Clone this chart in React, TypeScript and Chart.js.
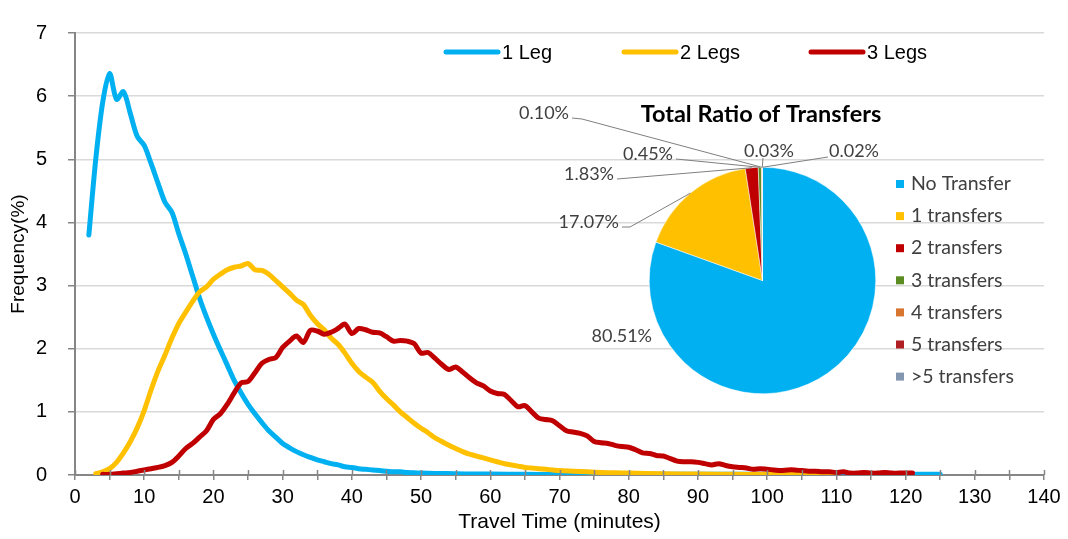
import { useEffect, useRef } from "react";
import { Chart, registerables } from "chart.js";

Chart.register(...registerables);

const FONT = "'Liberation Sans', Arial, sans-serif";
const PIE_FONT = "Lato, 'Noto Sans', sans-serif";

// ---------- line chart data ----------
const seriesNames = ["1 Leg", "2 Legs", "3 Legs"];
const seriesColors = ["#00B0F0", "#FFC000", "#C00000"];

const leg1Minutes = [
  2, 3, 4, 5, 6, 7, 8, 9, 10, 11, 12, 13, 14, 15, 16, 17, 18, 19, 20, 21, 22, 23, 24, 25, 26,
  27, 28, 29, 30, 31, 32, 33, 34, 35, 36, 37, 38, 39, 40, 41, 42, 43, 44, 45, 46, 47, 48, 49,
  50, 52, 55, 58, 60, 65, 70, 80, 90, 100, 110, 120, 125,
];
const leg1Freq = [
  3.8, 5.0, 5.9, 6.36, 5.95, 6.07, 5.72, 5.36, 5.22, 4.93, 4.62, 4.32, 4.16, 3.82, 3.5, 3.15,
  2.8, 2.5, 2.23, 1.98, 1.74, 1.5, 1.3, 1.12, 0.97, 0.83, 0.7, 0.6, 0.5, 0.43, 0.37, 0.32, 0.28,
  0.24, 0.21, 0.18, 0.16, 0.13, 0.12, 0.1, 0.09, 0.08, 0.07, 0.06, 0.05, 0.05, 0.04, 0.035,
  0.03, 0.025, 0.02, 0.015, 0.015, 0.01, 0.01, 0.01, 0.01, 0.01, 0.01, 0.01, 0.01,
];

const leg2Minutes = [
  3, 4, 5, 6, 7, 8, 9, 10, 11, 12, 13, 14, 15, 16, 17, 18, 19, 20, 21, 22, 23, 24, 25, 26, 27,
  28, 29, 30, 31, 32, 33, 34, 35, 36, 37, 38, 39, 40, 41, 42, 43, 44, 45, 46, 47, 48, 49, 50,
  51, 52, 53, 54, 55, 56, 57, 58, 59, 60, 61, 62, 63, 64, 65, 66, 67, 68, 69, 70, 72, 74, 76,
  78, 80, 85, 90, 95, 100, 105, 110,
];
const leg2Freq = [
  0.02, 0.05, 0.1, 0.2, 0.35, 0.53, 0.75, 1.02, 1.35, 1.65, 1.9, 2.17, 2.4, 2.58, 2.75, 2.9,
  2.98, 3.1, 3.18, 3.25, 3.29, 3.31, 3.35, 3.25, 3.24, 3.18, 3.08, 2.98, 2.88, 2.77, 2.7, 2.53,
  2.4, 2.3, 2.17, 2.07, 1.93, 1.77, 1.64, 1.55, 1.47, 1.33, 1.21, 1.11, 1.0, 0.91, 0.82, 0.74,
  0.67, 0.59, 0.53, 0.47, 0.42, 0.37, 0.33, 0.3, 0.27, 0.24, 0.21, 0.18, 0.16, 0.14, 0.12,
  0.11, 0.1, 0.09, 0.08, 0.07, 0.06, 0.05, 0.04, 0.035, 0.03, 0.02, 0.015, 0.01, 0.01, 0.01,
  0.01,
];

const leg3Minutes = [
  4, 5, 6, 7, 8, 9, 10, 11, 12, 13, 14, 15, 16, 17, 18, 19, 20, 21, 22, 23, 24, 25, 26, 27, 28,
  29, 30, 31, 32, 33, 34, 35, 36, 37, 38, 39, 40, 41, 42, 43, 44, 45, 46, 47, 48, 49, 50, 51,
  52, 53, 54, 55, 56, 57, 58, 59, 60, 61, 62, 63, 64, 65, 66, 67, 68, 69, 70, 71, 72, 73, 74,
  75, 76, 77, 78, 79, 80, 81, 82, 83, 84, 85, 86, 87, 88, 89, 90, 91, 92, 93, 94, 95, 96, 97,
  98, 99, 100, 101, 102, 103, 104, 105, 106, 107, 108, 109, 110, 111, 112, 113, 114, 115, 116,
  117, 118, 119, 120, 121,
];
const leg3Freq = [
  0.01, 0.01, 0.02, 0.03, 0.04, 0.06, 0.08, 0.1, 0.12, 0.15, 0.2, 0.3, 0.42, 0.5, 0.6, 0.7,
  0.88, 0.97, 1.12, 1.3, 1.46, 1.48, 1.62, 1.77, 1.83, 1.86, 2.02, 2.12, 2.2, 2.1, 2.29, 2.28,
  2.23, 2.26, 2.32, 2.39, 2.24, 2.32, 2.3, 2.26, 2.25, 2.19, 2.12, 2.13, 2.12, 2.08, 1.93, 1.94,
  1.85, 1.75, 1.67, 1.71, 1.63, 1.54, 1.46, 1.41, 1.33, 1.29, 1.28, 1.18, 1.08, 1.1, 1.0, 0.9,
  0.88, 0.86, 0.78, 0.7, 0.68, 0.66, 0.62, 0.53, 0.51, 0.5, 0.47, 0.45, 0.44, 0.4, 0.35, 0.34,
  0.31, 0.3, 0.26, 0.22, 0.21, 0.21, 0.2, 0.18, 0.16, 0.18, 0.15, 0.13, 0.12, 0.11, 0.09, 0.1,
  0.09, 0.08, 0.07, 0.08, 0.08, 0.07, 0.06, 0.06, 0.05, 0.05, 0.04, 0.05, 0.03, 0.03, 0.04,
  0.03, 0.03, 0.04, 0.03, 0.03, 0.03, 0.03,
];

const xAxisTitle = "Travel Time (minutes)";
const yAxisTitle = "Frequency(%)";

// ---------- pie chart data ----------
const pieTitle = "Total Ratio of Transfers";
const transferLabels = [
  "No Transfer",
  "1 transfers",
  "2 transfers",
  "3 transfers",
  "4 transfers",
  "5 transfers",
  ">5 transfers",
];
const transferShares = [80.51, 17.07, 1.83, 0.45, 0.1, 0.03, 0.02];
const transferColors = ["#00B0F0", "#FFC000", "#C00000", "#5B8C21", "#D8752F", "#B01F24", "#8497B0"];

// layout of pie data labels (text anchor + leader start points)
const pieLabelLayout: { tx: number; ty: number; align: CanvasTextAlign; lead: number[][] | null }[] = [
  { tx: 652, ty: 336, align: "right", lead: null },
  { tx: 619, ty: 222, align: "right", lead: [[622, 227], [630, 227]] },
  { tx: 614, ty: 174, align: "right", lead: [[617, 179]] },
  { tx: 673, ty: 154, align: "right", lead: [[676, 159]] },
  { tx: 569, ty: 113, align: "right", lead: [[572, 118], [582, 119]] },
  { tx: 769, ty: 151, align: "center", lead: [[763, 158]] },
  { tx: 829, ty: 151, align: "left", lead: [[828, 157]] },
];

function toPoints(xs: number[], ys: number[]) {
  return xs.map((x, i) => ({ x, y: ys[i] }));
}

export default function App() {
  const lineRef = useRef<HTMLCanvasElement>(null);
  const pieRef = useRef<HTMLCanvasElement>(null);

  useEffect(() => {
    const legendX = [446, 624, 811];
    const legendY = 52;
    const sampleLen = 52;

    const lineLegend = {
      id: "lineLegend",
      afterDraw(chart: any) {
        const ctx = chart.ctx as CanvasRenderingContext2D;
        ctx.save();
        chart.data.datasets.forEach((ds: any, i: number) => {
          ctx.strokeStyle = ds.borderColor;
          ctx.lineWidth = 5;
          ctx.lineCap = "round";
          ctx.beginPath();
          ctx.moveTo(legendX[i], legendY);
          ctx.lineTo(legendX[i] + sampleLen, legendY);
          ctx.stroke();
          ctx.fillStyle = "#000";
          ctx.font = `20px ${FONT}`;
          ctx.textBaseline = "middle";
          ctx.textAlign = "left";
          ctx.fillText(ds.label, legendX[i] + sampleLen + 4, legendY + 1);
        });
        ctx.restore();
      },
    };

    const crossTicks = {
      id: "crossTicks",
      afterDraw(chart: any) {
        const ctx = chart.ctx as CanvasRenderingContext2D;
        const xs = chart.scales.x;
        const y = chart.chartArea.bottom;
        ctx.save();
        ctx.strokeStyle = "#868686";
        ctx.lineWidth = 1.5;
        xs.ticks.forEach((t: any) => {
          const px = Math.round(xs.getPixelForValue(t.value)) + 0.5;
          ctx.beginPath();
          ctx.moveTo(px, y - 5);
          ctx.lineTo(px, y);
          ctx.stroke();
        });
        ctx.restore();
      },
    };

    const lineChart = new Chart(lineRef.current!, {
      type: "line",
      data: {
        datasets: [
          { label: seriesNames[0], data: toPoints(leg1Minutes, leg1Freq), borderColor: seriesColors[0], order: 3 },
          { label: seriesNames[1], data: toPoints(leg2Minutes, leg2Freq), borderColor: seriesColors[1], order: 2 },
          { label: seriesNames[2], data: toPoints(leg3Minutes, leg3Freq), borderColor: seriesColors[2], order: 1 },
        ].map((d) => ({
          ...d,
          borderWidth: 5,
          pointRadius: 0,
          tension: 0.3,
          fill: false,
          borderCapStyle: "round" as const,
          borderJoinStyle: "round" as const,
        })),
      },
      options: {
        responsive: false,
        animation: false,
        layout: { padding: { top: 18, right: 24, left: 0, bottom: 0 } },
        plugins: { legend: { display: false }, tooltip: { enabled: false }, title: { display: false } },
        scales: {
          x: {
            type: "linear",
            min: 0,
            max: 140,
            afterFit: (s: any) => {
              s.height = 64;
            },
            ticks: {
              stepSize: 5,
              autoSkip: false,
              maxRotation: 0,
              padding: 5,
              color: "#000",
              font: { family: FONT, size: 20 },
              callback: (v: any) => (Number(v) % 10 === 0 ? String(v) : ""),
            },
            grid: { drawOnChartArea: false, tickLength: 5, color: "#868686", tickColor: "#868686", lineWidth: 1.5 },
            border: { color: "#868686", width: 2 },
            title: {
              display: true,
              text: xAxisTitle,
              color: "#000",
              font: { family: FONT, size: 21 },
              padding: { top: 0, bottom: 4 },
            },
          },
          y: {
            min: 0,
            max: 7,
            afterFit: (s: any) => {
              s.width = 75;
            },
            ticks: {
              stepSize: 1,
              padding: 21,
              color: "#000",
              font: { family: FONT, size: 20 },
            },
            grid: { color: "#d9d9d9", tickColor: "#868686", tickLength: 7, lineWidth: 1.5 },
            border: { color: "#868686", width: 2 },
            title: {
              display: true,
              text: yAxisTitle,
              color: "#000",
              font: { family: FONT, size: 19 },
              padding: { top: 7, bottom: 0 },
            },
          },
        },
      },
      plugins: [lineLegend, crossTicks],
    });

    const pieDecor = {
      id: "pieDecor",
      afterDraw(chart: any) {
        const ctx = chart.ctx as CanvasRenderingContext2D;
        const meta = chart.getDatasetMeta(0);
        const values = chart.data.datasets[0].data as number[];
        ctx.save();
        // title
        ctx.fillStyle = "#000";
        ctx.font = `bold 23.5px ${PIE_FONT}`;
        ctx.textAlign = "center";
        ctx.textBaseline = "middle";
        ctx.fillText(pieTitle, 761, 114);
        // data labels with leader lines
        meta.data.forEach((arc: any, i: number) => {
          const lay = pieLabelLayout[i];
          if (!lay) return;
          if (lay.lead) {
            const mid = (arc.startAngle + arc.endAngle) / 2;
            const ex = arc.x + Math.cos(mid) * arc.outerRadius;
            const ey = arc.y + Math.sin(mid) * arc.outerRadius;
            ctx.strokeStyle = "#7f7f7f";
            ctx.lineWidth = 1;
            ctx.beginPath();
            ctx.moveTo(lay.lead[0][0], lay.lead[0][1]);
            for (let k = 1; k < lay.lead.length; k++) ctx.lineTo(lay.lead[k][0], lay.lead[k][1]);
            ctx.lineTo(ex, ey);
            ctx.stroke();
          }
          ctx.fillStyle = "#404040";
          ctx.font = `18px ${PIE_FONT}`;
          ctx.textAlign = lay.align;
          ctx.textBaseline = "middle";
          ctx.fillText(values[i].toFixed(2) + "%", lay.tx, lay.ty);
        });
        // legend
        const labels = chart.data.labels as string[];
        const colors = chart.data.datasets[0].backgroundColor as string[];
        labels.forEach((lab, i) => {
          const cy = 184 + i * 32.1;
          ctx.fillStyle = colors[i];
          ctx.fillRect(896, cy - 4, 8, 8);
          ctx.fillStyle = "#404040";
          ctx.font = `19.5px ${PIE_FONT}`;
          ctx.textAlign = "left";
          ctx.textBaseline = "middle";
          ctx.fillText(lab, 911, cy);
        });
        ctx.restore();
      },
    };

    const pieChart = new Chart(pieRef.current!, {
      type: "pie",
      data: {
        labels: transferLabels,
        datasets: [
          {
            data: transferShares,
            backgroundColor: transferColors,
            borderColor: "#ffffff",
            borderWidth: 0.5,
          },
        ],
      },
      options: {
        responsive: false,
        animation: false,
        layout: { padding: { left: 649, right: 192, top: 167, bottom: 145 } },
        plugins: { legend: { display: false }, tooltip: { enabled: false }, title: { display: false } },
      },
      plugins: [pieDecor],
    });

    return () => {
      lineChart.destroy();
      pieChart.destroy();
    };
  }, []);

  return (
    <div style={{ position: "absolute", left: 0, top: 0, width: 1068, height: 539, background: "#fff" }}>
      <canvas ref={lineRef} width={1068} height={539} style={{ position: "absolute", left: 0, top: 0 }} />
      <canvas
        ref={pieRef}
        width={1068}
        height={539}
        style={{ position: "absolute", left: 0, top: 0, pointerEvents: "none" }}
      />
    </div>
  );
}
